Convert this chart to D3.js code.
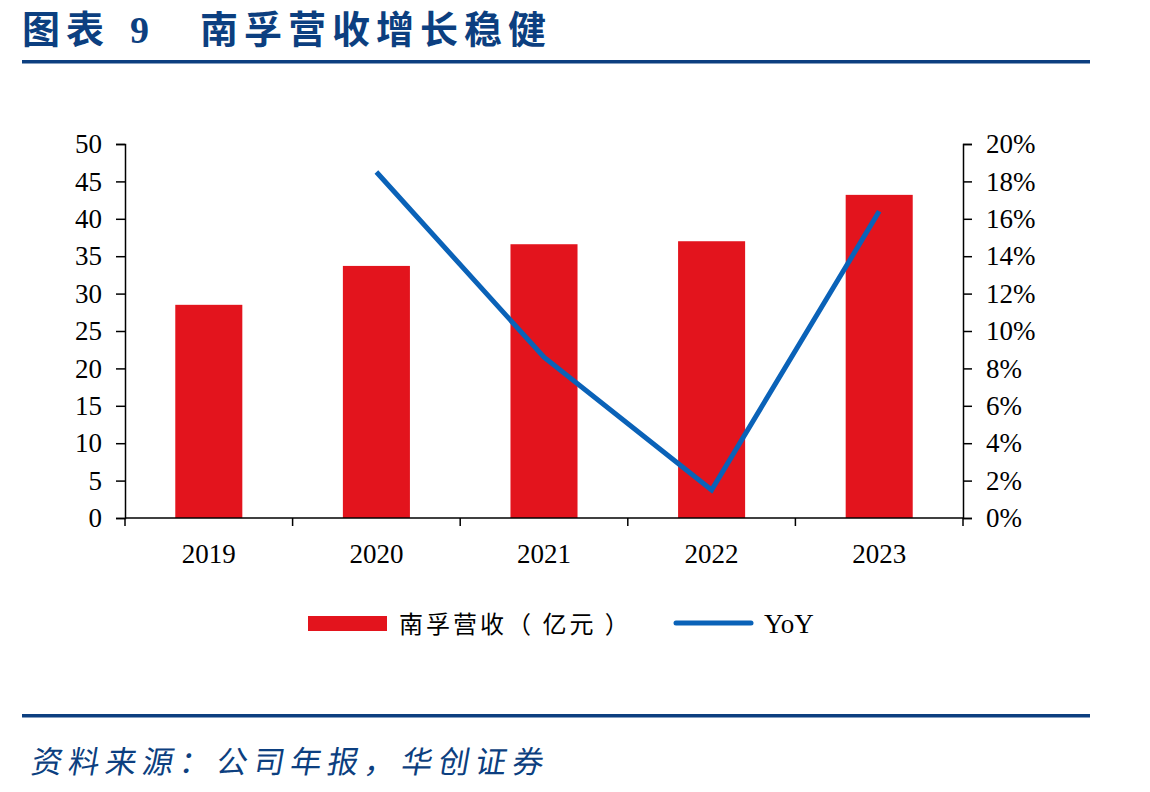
<!DOCTYPE html>
<html lang="zh">
<head>
<meta charset="UTF-8">
<title>南孚营收增长稳健</title>
<script src="https://d3js.org/d3.v7.min.js"></script>
<style>
  body { margin: 0; background: #fff; }
</style>
</head>
<body>
<script>
    // data
    var years = ["2019", "2020", "2021", "2022", "2023"];
    var revenue = [28.5, 33.7, 36.6, 37.0, 43.2];
    var yoy = [null, 0.185, 0.086, 0.015, 0.164];
    var leftTicks = [0, 5, 10, 15, 20, 25, 30, 35, 40, 45, 50];
    var rightTicks = [0, 0.02, 0.04, 0.06, 0.08, 0.10, 0.12, 0.14, 0.16, 0.18, 0.20];

    var width = 1150, height = 792;
    var navy = "#0c3f80", red = "#e3141d", blue = "#0a62b8";
    var serif = "'Liberation Serif', 'Times New Roman', serif";
    var cjk = "'Noto Sans CJK SC', sans-serif";

    margin = ({top: 144, right: 187, bottom: 274, left: 125})

    const svg = d3.select("body").append("svg")
        .attr("width", width)
        .attr("height", height);

    // title + rules
    const title = svg.append("text")
        .attr("y", 43)
        .attr("fill", navy)
        .style("font", "bold 38px " + cjk)
        .style("letter-spacing", "6px");
    title.append("tspan").attr("x", 22).text("图表");
    title.append("tspan").attr("x", 130).style("font-family", serif).text("9");
    title.append("tspan").attr("x", 200).text("南孚营收增长稳健");

    svg.append("rect").attr("x", 22).attr("y", 60).attr("width", 1068).attr("height", 3.5).attr("fill", navy);
    svg.append("rect").attr("x", 22).attr("y", 714).attr("width", 1068).attr("height", 3.5).attr("fill", navy);

    svg.append("text")
        .attr("x", 0).attr("y", 0)
        .attr("fill", navy)
        .style("font", "31px " + cjk)
        .style("letter-spacing", "6px")
        .attr("transform", "translate(30,773) skewX(-10)")
        .text("资料来源：公司年报，华创证券");

    const x = d3.scaleBand()
        .domain(years)
        .range([margin.left, width - margin.right]);

    const yL = d3.scaleLinear().domain([0, 50]).range([height - margin.bottom, margin.top]);
    const yR = d3.scaleLinear().domain([0, 0.20]).range([height - margin.bottom, margin.top]);

    const plot = svg.append("g");

    // bars
    plot.selectAll("rect.bar")
        .data(years)
        .join("rect")
        .attr("class", "bar")
        .attr("x", d => x(d) + x.bandwidth() * 0.3)
        .attr("width", x.bandwidth() * 0.4)
        .attr("y", (d, i) => yL(revenue[i]))
        .attr("height", (d, i) => yL(0) - yL(revenue[i]))
        .attr("fill", red);

    // yoy line
    const line = d3.line()
        .defined(d => d[1] != null)
        .x(d => x(d[0]) + x.bandwidth() / 2)
        .y(d => yR(d[1]));

    plot.append("path")
        .datum(years.map((d, i) => [d, yoy[i]]))
        .attr("fill", "none")
        .attr("stroke", blue)
        .attr("stroke-width", 5)
        .attr("stroke-linejoin", "miter")
        .attr("d", line);

    // axes
    function styleAxis(g) {
        g.selectAll("path, line").attr("stroke", "#000").attr("stroke-width", 1.5);
        g.selectAll("text").style("font", "27px " + serif).attr("fill", "#000");
    }

    svg.append("g")
        .attr("transform", `translate(${margin.left},0)`)
        .call(d3.axisLeft(yL).tickValues(leftTicks).tickSize(9).tickSizeOuter(9).tickPadding(14))
        .call(styleAxis);

    svg.append("g")
        .attr("transform", `translate(${width - margin.right},0)`)
        .call(d3.axisRight(yR).tickValues(rightTicks).tickFormat(d3.format(".0%")).tickSize(9).tickSizeOuter(9).tickPadding(14))
        .call(styleAxis);

    // x axis: ticks at band boundaries
    const gx = svg.append("g")
        .attr("transform", `translate(0,${height - margin.bottom})`);
    gx.append("line")
        .attr("x1", margin.left).attr("x2", width - margin.right)
        .attr("stroke", "#000").attr("stroke-width", 1.5);
    const bounds = years.map(d => x(d)).concat([x(years[years.length - 1]) + x.bandwidth()]);
    gx.selectAll("line.tk")
        .data(bounds)
        .join("line")
        .attr("class", "tk")
        .attr("x1", d => d).attr("x2", d => d)
        .attr("y1", 0).attr("y2", 8)
        .attr("stroke", "#000").attr("stroke-width", 1.5);
    gx.selectAll("text")
        .data(years)
        .join("text")
        .attr("x", d => x(d) + x.bandwidth() / 2)
        .attr("y", 45)
        .attr("text-anchor", "middle")
        .style("font", "27px " + serif)
        .text(d => d);

    // legend
    const lg = svg.append("g");
    lg.append("rect").attr("x", 308).attr("y", 616).attr("width", 79).attr("height", 15).attr("fill", red);
    lg.append("text").attr("x", 399).attr("y", 633)
        .style("font", "24px " + cjk)
        .style("letter-spacing", "3px")
        .text("南孚营收（ 亿元 ）");
    lg.append("line").attr("x1", 676).attr("x2", 751).attr("y1", 623).attr("y2", 623)
        .attr("stroke", blue).attr("stroke-width", 5).attr("stroke-linecap", "round");
    lg.append("text").attr("x", 764).attr("y", 633)
        .style("font", "27px " + serif).text("YoY");
</script>
</body>
</html>
